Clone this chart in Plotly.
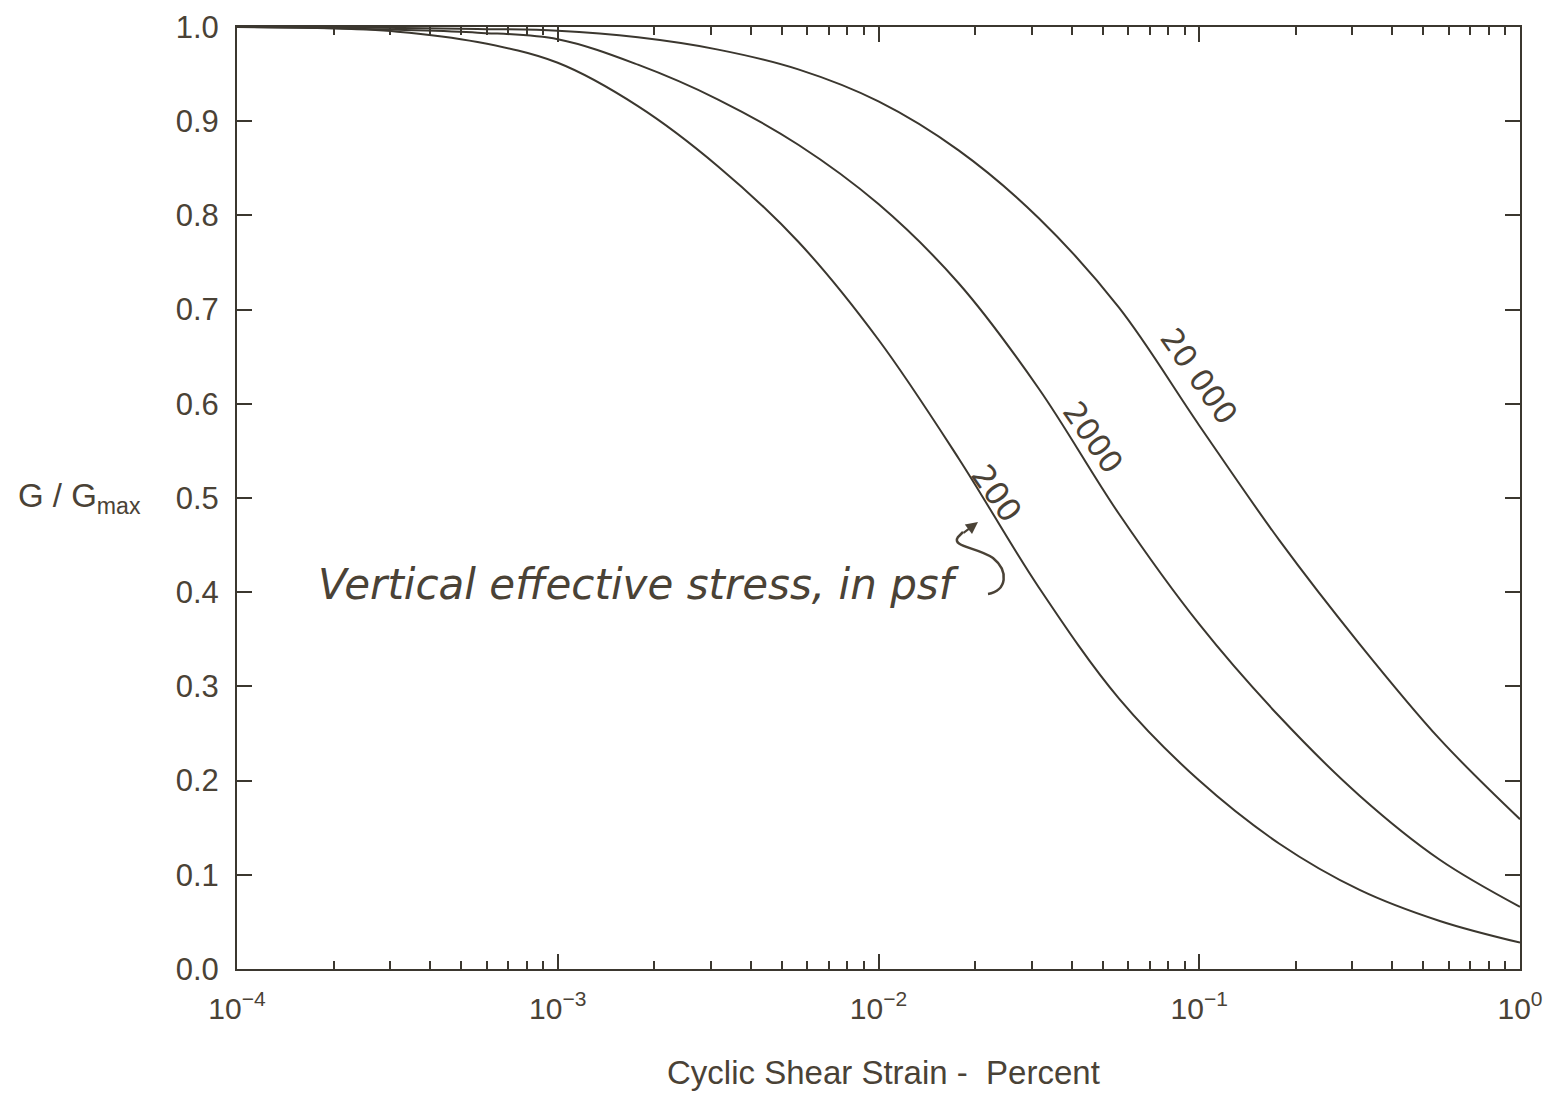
import plotly.graph_objects as go

# ---- data (G/Gmax vs cyclic shear strain, %) ----
strain = [1.0e-4, 1.778e-4, 3.162e-4, 5.623e-4, 1.0e-3, 1.778e-3, 3.162e-3, 5.623e-3,
          1.0e-2, 1.778e-2, 3.162e-2, 5.623e-2, 1.0e-1, 1.778e-1, 3.162e-1, 5.623e-1, 1.0]

g_200 = [1.000, 0.999, 0.995, 0.984, 0.962, 0.916, 0.852, 0.772,
         0.668, 0.542, 0.405, 0.287, 0.200, 0.133, 0.084, 0.051, 0.028]

g_2000 = [1.000, 0.999, 0.997, 0.994, 0.987, 0.960, 0.923, 0.875,
          0.812, 0.728, 0.616, 0.483, 0.366, 0.268, 0.184, 0.116, 0.066]

g_20000 = [1.000, 1.000, 0.999, 0.998, 0.996, 0.989, 0.976, 0.955,
           0.921, 0.869, 0.797, 0.702, 0.577, 0.455, 0.345, 0.244, 0.159]

x_tickvals = [1e-4, 1e-3, 1e-2, 1e-1, 1.0]
x_ticktext = ["10<sup>\u22124</sup>", "10<sup>\u22123</sup>", "10<sup>\u22122</sup>",
              "10<sup>\u22121</sup>", "10<sup>0</sup>"]
x_minor = [m * d for d in [1e-4, 1e-3, 1e-2, 1e-1] for m in range(2, 10)]
y_tickvals = [round(i * 0.1, 1) for i in range(11)]

curve_labels = ["200", "2000", "20 000"]

LINE = "#3b372f"
TXT = "#4a4236"
FONT = "Liberation Sans, Arial, sans-serif"
HAND = "DejaVu Sans, sans-serif"

fig = go.Figure()
for ys in [g_200, g_2000, g_20000]:
    fig.add_trace(go.Scatter(x=strain, y=ys, mode="lines",
                             line=dict(color=LINE, width=2, shape="spline", smoothing=1.0),
                             showlegend=False, hoverinfo="x+y"))

# reference plot box (page pixels)
PL, PR, PT, PB = 236, 1519, 26, 968


def px2paper(px, py):
    return (px - PL) / (PR - PL), (PB - py) / (PB - PT)


fig.update_layout(
    width=1544, height=1086,
    margin=dict(l=229, r=32, t=19, b=125),
    paper_bgcolor="white", plot_bgcolor="white",
    font=dict(family=FONT, color=TXT, size=31),
    xaxis=dict(type="log", range=[-4, 0], tickvals=x_tickvals, ticktext=x_ticktext,
               ticks="inside", ticklen=15, tickwidth=2, tickcolor=LINE,
               showline=True, linewidth=2, linecolor=LINE, mirror="ticks",
               showgrid=False, zeroline=False, ticklabelstandoff=12, automargin=False,
               tickfont=dict(size=30, color=TXT, family=FONT),
               minor=dict(tickvals=x_minor, ticks="inside", ticklen=8, tickwidth=2,
                          tickcolor=LINE, showgrid=False)),
    yaxis=dict(range=[0, 1], tickvals=y_tickvals, tickformat=".1f",
               ticks="inside", ticklen=15, tickwidth=2, tickcolor=LINE,
               showline=True, linewidth=2, linecolor=LINE, mirror="ticks",
               showgrid=False, zeroline=False, ticklabelstandoff=10, automargin=False,
               tickfont=dict(size=31, color=TXT, family=FONT)),
)

ann = []
# axis titles
ax_, ay_ = px2paper(882, 1071)
ann.append(dict(x=ax_, y=ay_, xref="paper", yref="paper", showarrow=False,
                xanchor="center", yanchor="middle",
                text="Cyclic Shear Strain -\u00a0 Percent", font=dict(size=33, family=FONT, color=TXT)))
gx, gy = px2paper(78, 497)
ann.append(dict(x=gx, y=gy, xref="paper", yref="paper", showarrow=False,
                xanchor="center", yanchor="middle",
                text="G / G<sub>max</sub>", font=dict(size=33, family=FONT, color=TXT)))

# curve labels (rotated along the curves)
for lab, (lx, ly), sz in zip(curve_labels, [(995, 492), (1092, 436), (1198, 375)], [32, 31, 31]):
    px_, py_ = px2paper(lx, ly)
    ann.append(dict(x=px_, y=py_, xref="paper", yref="paper", showarrow=False,
                    xanchor="center", yanchor="middle",
                    text=lab, textangle=55, font=dict(size=sz, family=HAND, color=TXT)))

# handwritten note
nx, ny = px2paper(638, 583)
ann.append(dict(x=nx, y=ny, xref="paper", yref="paper", showarrow=False,
                xanchor="center", yanchor="middle",
                text="<i>Vertical effective stress, in psf</i>",
                font=dict(size=42, family=HAND, color=TXT)))

# arrowhead toward the 200 curve
hx, hy = px2paper(977, 521)
ann.append(dict(x=hx, y=hy, xref="paper", yref="paper", showarrow=True, text="",
                ax=-16, ay=12, arrowhead=2, arrowsize=1.2, arrowwidth=2, arrowcolor=TXT))
fig.update_layout(annotations=ann)

# curly bracket path (paper coords)
pts = [(987, 593), (1006, 590), (1008, 570), (992, 557), (976, 546), (950, 546), (957, 536), (962, 531)]
p = [px2paper(a, b) for a, b in pts]
path = (f"M {p[0][0]},{p[0][1]} C {p[1][0]},{p[1][1]} {p[2][0]},{p[2][1]} {p[3][0]},{p[3][1]} "
        f"C {p[4][0]},{p[4][1]} {p[5][0]},{p[5][1]} {p[6][0]},{p[6][1]} L {p[7][0]},{p[7][1]}")
fig.add_shape(type="path", path=path, xref="paper", yref="paper",
              line=dict(color=TXT, width=2.5))

fig.write_html("out.html")
